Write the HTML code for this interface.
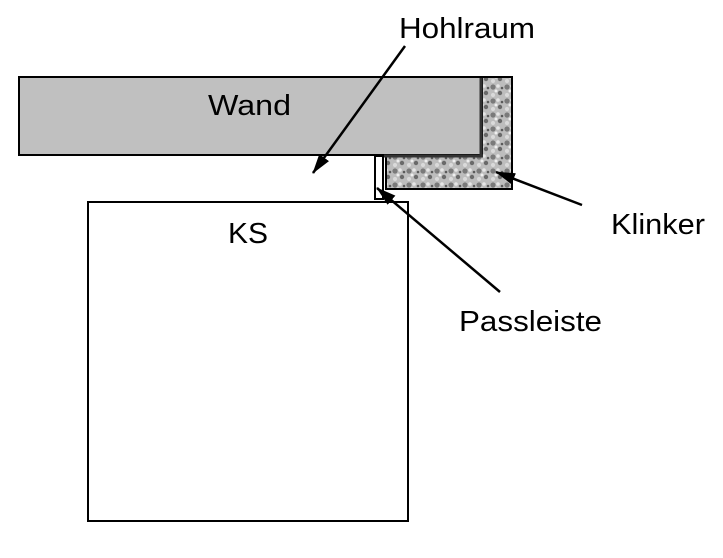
<!DOCTYPE html>
<html><head><style>
body{margin:0;background:#fff;}
svg text{font-family:"Liberation Sans",sans-serif;font-size:29px;fill:#000;}
</style></head><body>
<svg width="723" height="553" viewBox="0 0 723 553" xmlns="http://www.w3.org/2000/svg">
<defs>
<pattern id="gr" width="14" height="14" patternUnits="userSpaceOnUse">
<rect width="14" height="14" fill="#bdbdbd"/>
<circle cx="3" cy="3" r="2.6" fill="#7a7a7a"/><circle cx="10" cy="9" r="2.2" fill="#6a6a6a"/>
<circle cx="8" cy="2" r="1.8" fill="#e6e6e6"/><circle cx="3" cy="11" r="2" fill="#dadada"/>
<circle cx="12" cy="4" r="1.3" fill="#5a5a5a"/><circle cx="6" cy="7" r="1.5" fill="#efefef"/>
</pattern>
<marker id="ah" markerWidth="20" markerHeight="12" refX="19" refY="6" orient="auto" markerUnits="userSpaceOnUse" viewBox="0 0 20 12">
<path d="M0,0 L20,6 L0,12 z" fill="#000"/></marker>
</defs>
<path d="M482,77 H512 V189 H386 V156 H482 Z" fill="url(#gr)" stroke="#000" stroke-width="2"/>
<rect x="19" y="77" width="463" height="78" fill="#c0c0c0" stroke="#000" stroke-width="2"/>
<line x1="481" y1="78" x2="481" y2="156" stroke="#333" stroke-width="3"/>
<line x1="384" y1="156" x2="483" y2="156" stroke="#333" stroke-width="3"/>
<rect x="375" y="156" width="8" height="43" fill="#fff" stroke="#000" stroke-width="2"/>
<rect x="88" y="202" width="320" height="319" fill="#fff" stroke="#000" stroke-width="2"/>
<line x1="405" y1="46" x2="313" y2="173" stroke="#000" stroke-width="2.5" marker-end="url(#ah)"/>
<line x1="582" y1="205" x2="496" y2="172" stroke="#000" stroke-width="2.5" marker-end="url(#ah)"/>
<line x1="500" y1="292" x2="377" y2="188" stroke="#000" stroke-width="2.5" marker-end="url(#ah)"/>
<text x="399" y="38" textLength="136" lengthAdjust="spacingAndGlyphs">Hohlraum</text>
<text x="208" y="115" textLength="83" lengthAdjust="spacingAndGlyphs">Wand</text>
<text x="228" y="243" textLength="40" lengthAdjust="spacingAndGlyphs">KS</text>
<text x="611" y="234" textLength="94" lengthAdjust="spacingAndGlyphs">Klinker</text>
<text x="459" y="331" textLength="143" lengthAdjust="spacingAndGlyphs">Passleiste</text>
</svg>
</body></html>
